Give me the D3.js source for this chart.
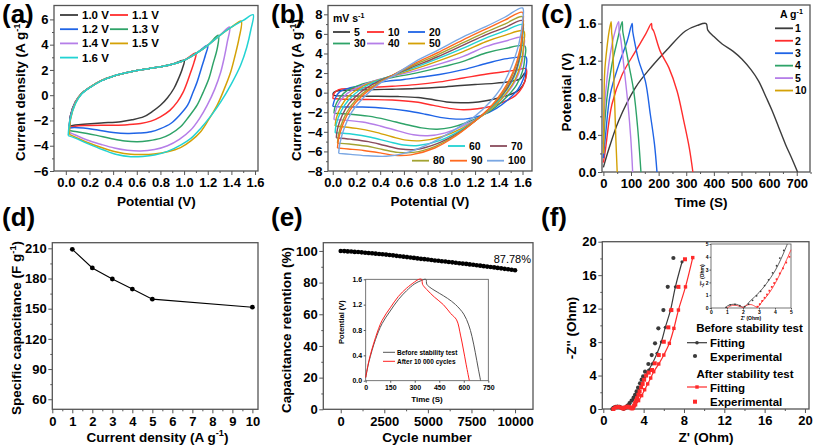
<!DOCTYPE html>
<html><head><meta charset="utf-8">
<script src="https://cdn.jsdelivr.net/npm/d3@7"></script>
<style>body{margin:0;background:#fff}text{font-family:"Liberation Sans",Arial,sans-serif}</style>
</head><body><svg id="c" width="813" height="445"></svg>
<script>
// ---------------- (a) CV at different potential windows: [V, I] ----------------
const cvaLabels = ["1.0 V","1.1 V","1.2 V","1.3 V","1.4 V","1.5 V","1.6 V"];
const cvA10 = [[0.03,-2.45],[0.04,-1.6],[0.08,-0.55],[0.13,0.1],[0.2,0.6],[0.3,1.15],[0.4,1.5],[0.5,1.75],[0.6,1.95],[0.7,2.1],[0.8,2.25],[0.9,2.45],[1.0,2.76],
  [0.985,2.1],[0.95,1.25],[0.915,0.55],[0.86,-0.2],[0.8,-0.8],[0.73,-1.3],[0.66,-1.7],[0.56,-1.95],[0.465,-2.1],[0.3,-2.2],[0.18,-2.28],[0.08,-2.36],[0.03,-2.45]];
const cvA11 = [[0.03,-2.55],[0.04,-1.6],[0.08,-0.55],[0.13,0.1],[0.2,0.6],[0.3,1.15],[0.4,1.5],[0.5,1.75],[0.6,1.95],[0.7,2.1],[0.8,2.25],[0.9,2.45],[1.0,2.76],[1.1,3.33],
  [1.084,2.6],[1.055,1.8],[1.027,1.05],[0.99,0.2],[0.943,-0.53],[0.88,-1.2],[0.8,-1.71],[0.72,-2.05],[0.633,-2.24],[0.52,-2.33],[0.41,-2.37],[0.18,-2.4],[0.08,-2.45],[0.03,-2.55]];
const cvA12 = [[0.03,-2.6],[0.04,-1.6],[0.08,-0.55],[0.13,0.1],[0.2,0.6],[0.3,1.15],[0.4,1.5],[0.5,1.75],[0.6,1.95],[0.7,2.1],[0.8,2.25],[0.9,2.45],[1.0,2.76],[1.1,3.3],[1.2,3.95],
  [1.18,3.16],[1.145,2.1],[1.11,1.05],[1.07,0.1],[1.03,-0.79],[0.96,-1.6],[0.887,-2.24],[0.8,-2.65],[0.72,-2.9],[0.62,-3.0],[0.52,-3.03],[0.4,-2.95],[0.27,-2.76],[0.15,-2.6],[0.07,-2.55],[0.03,-2.6]];
const cvA13 = [[0.03,-2.8],[0.04,-1.7],[0.08,-0.6],[0.13,0.1],[0.2,0.6],[0.3,1.15],[0.4,1.5],[0.5,1.75],[0.6,1.95],[0.7,2.1],[0.8,2.25],[0.9,2.45],[1.0,2.76],[1.1,3.3],[1.2,3.95],[1.29,4.74],
  [1.28,3.68],[1.245,2.5],[1.21,1.32],[1.16,0.2],[1.11,-0.79],[1.04,-1.7],[0.97,-2.5],[0.88,-3.1],[0.8,-3.42],[0.7,-3.6],[0.605,-3.68],[0.5,-3.62],[0.38,-3.42],[0.27,-3.2],[0.18,-3.03],[0.08,-2.88],[0.03,-2.8]];
const cvA14 = [[0.03,-2.95],[0.04,-1.8],[0.08,-0.6],[0.13,0.1],[0.2,0.6],[0.3,1.15],[0.4,1.5],[0.5,1.75],[0.6,1.95],[0.7,2.1],[0.8,2.25],[0.9,2.45],[1.0,2.76],[1.1,3.3],[1.2,3.95],[1.3,4.72],[1.385,5.39],
  [1.365,4.2],[1.34,3.0],[1.31,1.84],[1.26,0.5],[1.196,-0.79],[1.13,-1.85],[1.056,-2.76],[0.96,-3.5],[0.86,-4.0],[0.75,-4.3],[0.633,-4.42],[0.52,-4.36],[0.41,-4.18],[0.3,-3.9],[0.18,-3.55],[0.08,-3.15],[0.03,-2.95]];
const cvA15 = [[0.03,-3.1],[0.04,-1.9],[0.08,-0.65],[0.13,0.1],[0.2,0.6],[0.3,1.15],[0.4,1.5],[0.5,1.75],[0.6,1.95],[0.7,2.1],[0.8,2.25],[0.9,2.45],[1.0,2.76],[1.1,3.3],[1.2,3.95],[1.3,4.72],[1.4,5.38],[1.483,5.87],
  [1.464,4.47],[1.43,3.1],[1.394,1.84],[1.34,0.5],[1.28,-0.79],[1.21,-1.9],[1.14,-2.9],[1.06,-3.6],[0.97,-4.15],[0.86,-4.48],[0.746,-4.65],[0.65,-4.7],[0.55,-4.68],[0.43,-4.5],[0.32,-4.2],[0.2,-3.8],[0.1,-3.4],[0.03,-3.1]];
const cvA16 = [[0.02,-3.2],[0.035,-2.0],[0.08,-0.7],[0.13,0.05],[0.2,0.58],[0.3,1.13],[0.4,1.5],[0.5,1.75],[0.6,1.95],[0.7,2.1],[0.8,2.25],[0.9,2.45],[1.0,2.76],[1.1,3.3],[1.2,3.95],[1.3,4.72],[1.4,5.38],[1.5,5.92],[1.584,6.37],
  [1.565,5.2],[1.53,3.8],[1.478,2.37],[1.4,0.9],[1.31,-0.53],[1.23,-1.6],[1.14,-2.63],[1.06,-3.4],[0.97,-3.95],[0.86,-4.45],[0.75,-4.74],[0.65,-4.85],[0.55,-4.87],[0.43,-4.7],[0.32,-4.34],[0.18,-3.81],[0.08,-3.4],[0.02,-3.2]];
const cvA = [cvA10,cvA11,cvA12,cvA13,cvA14,cvA15,cvA16];

// ---------------- (b) CV at different scan rates: [V, I] ----------------
const cvbLabels = ["5","10","20","30","40","50","60","70","80","90","100"];
const cvB5 = [[0.0,-0.2],[0.01,0.05],[0.05,0.2],[0.15,0.26],[0.3,0.3],[0.5,0.35],[0.7,0.42],[0.9,0.55],[1.08,0.73],[1.2,0.83],[1.36,0.95],[1.5,1.15],[1.58,1.4],[1.62,2.0],
  [1.625,1.4],[1.6,0.7],[1.55,0.1],[1.47,-0.3],[1.38,-0.6],[1.28,-0.85],[1.18,-1.0],[1.08,-1.03],[0.96,-0.95],[0.85,-0.72],[0.72,-0.5],[0.55,-0.4],[0.3,-0.36],[0.1,-0.33],[0.02,-0.3],[0.0,-0.2]];
const cvB10 = [[0.0,-0.6],[0.01,-0.1],[0.05,0.3],[0.15,0.42],[0.3,0.52],[0.5,0.65],[0.7,0.82],[0.9,1.1],[1.1,1.5],[1.3,1.9],[1.45,2.15],[1.55,2.3],[1.63,2.45],
  [1.63,1.6],[1.6,0.6],[1.54,-0.3],[1.45,-0.9],[1.35,-1.35],[1.22,-1.65],[1.1,-1.75],[0.98,-1.6],[0.85,-1.3],[0.7,-0.95],[0.5,-0.75],[0.3,-0.7],[0.1,-0.68],[0.0,-0.6]];
const cvB20 = [[0.0,-1.4],[0.02,-0.6],[0.06,0.1],[0.15,0.5],[0.3,0.85],[0.45,1.15],[0.6,1.35],[0.75,1.6],[0.9,1.85],[1.1,2.35],[1.3,3.0],[1.45,3.45],[1.55,3.6],[1.63,3.65],
  [1.63,2.6],[1.61,1.5],[1.56,0.3],[1.48,-0.7],[1.38,-1.6],[1.26,-2.3],[1.14,-2.65],[1.04,-2.7],[0.92,-2.55],[0.78,-2.2],[0.62,-1.85],[0.45,-1.6],[0.25,-1.47],[0.05,-1.45],[0.0,-1.4]];
const cvB30 = [[0.01,-2.1],[0.02,-1.4],[0.06,-0.5],[0.12,0.2],[0.22,0.75],[0.35,1.2],[0.5,1.55],[0.7,2.0],[0.88,2.5],[1.1,3.2],[1.29,4.05],[1.45,4.5],[1.62,4.75],
  [1.62,3.6],[1.6,2.2],[1.55,0.8],[1.47,-0.4],[1.37,-1.5],[1.25,-2.4],[1.12,-3.1],[1.0,-3.55],[0.88,-3.73],[0.75,-3.6],[0.6,-3.2],[0.45,-2.75],[0.3,-2.4],[0.15,-2.2],[0.01,-2.1]];
const cvB40 = [[0.01,-2.75],[0.02,-2.0],[0.06,-0.9],[0.12,-0.1],[0.22,0.6],[0.35,1.2],[0.5,1.65],[0.7,2.25],[0.88,2.86],[1.1,3.7],[1.29,4.7],[1.45,5.25],[1.61,5.65],
  [1.61,4.5],[1.59,2.8],[1.54,1.2],[1.46,-0.2],[1.36,-1.4],[1.24,-2.5],[1.1,-3.4],[0.95,-4.1],[0.8,-4.4],[0.68,-4.3],[0.55,-3.9],[0.4,-3.4],[0.25,-3.0],[0.1,-2.8],[0.01,-2.75]];
const cvB50 = [[0.02,-3.4],[0.03,-2.6],[0.07,-1.4],[0.13,-0.4],[0.23,0.5],[0.35,1.15],[0.5,1.7],[0.7,2.45],[0.88,3.2],[1.1,4.2],[1.29,5.2],[1.45,5.85],[1.61,6.3],
  [1.61,5.0],[1.59,3.2],[1.54,1.4],[1.46,-0.1],[1.36,-1.4],[1.23,-2.6],[1.08,-3.7],[0.92,-4.5],[0.75,-4.9],[0.62,-4.85],[0.5,-4.5],[0.35,-4.0],[0.2,-3.65],[0.02,-3.4]];
const cvB60 = [[0.02,-4.1],[0.03,-3.2],[0.07,-1.9],[0.13,-0.8],[0.23,0.3],[0.35,1.1],[0.5,1.75],[0.7,2.6],[0.88,3.44],[1.1,4.55],[1.29,5.57],[1.45,6.3],[1.6,6.95],
  [1.6,5.6],[1.58,3.6],[1.53,1.6],[1.45,0.0],[1.35,-1.4],[1.22,-2.7],[1.07,-3.9],[0.9,-4.9],[0.72,-5.4],[0.6,-5.35],[0.47,-5.0],[0.32,-4.55],[0.17,-4.25],[0.02,-4.1]];
const cvB70 = [[0.03,-4.6],[0.04,-3.7],[0.08,-2.3],[0.14,-1.1],[0.24,0.1],[0.36,1.0],[0.5,1.75],[0.7,2.75],[0.88,3.64],[1.1,4.85],[1.29,5.9],[1.45,6.65],[1.6,7.35],
  [1.6,6.0],[1.58,3.9],[1.53,1.8],[1.45,0.1],[1.34,-1.4],[1.21,-2.8],[1.06,-4.1],[0.88,-5.2],[0.7,-5.8],[0.57,-5.75],[0.44,-5.4],[0.3,-5.0],[0.15,-4.75],[0.03,-4.6]];
const cvB80 = [[0.04,-5.15],[0.05,-4.2],[0.09,-2.7],[0.15,-1.4],[0.25,-0.1],[0.37,0.9],[0.5,1.75],[0.7,2.9],[0.88,3.84],[1.1,5.1],[1.29,6.17],[1.45,7.0],[1.6,7.75],
  [1.6,6.4],[1.58,4.2],[1.52,1.9],[1.44,0.1],[1.33,-1.5],[1.2,-2.9],[1.05,-4.25],[0.87,-5.45],[0.68,-6.1],[0.55,-6.1],[0.42,-5.8],[0.28,-5.45],[0.14,-5.25],[0.04,-5.15]];
const cvB90 = [[0.04,-5.65],[0.05,-4.7],[0.09,-3.1],[0.15,-1.7],[0.25,-0.3],[0.37,0.8],[0.5,1.75],[0.7,3.05],[0.88,4.05],[1.1,5.4],[1.29,6.48],[1.45,7.4],[1.6,8.2],
  [1.6,6.8],[1.58,4.5],[1.52,2.1],[1.43,0.1],[1.32,-1.6],[1.19,-3.0],[1.04,-4.4],[0.86,-5.65],[0.66,-6.35],[0.52,-6.4],[0.4,-6.15],[0.26,-5.9],[0.13,-5.75],[0.04,-5.65]];
const cvB100 = [[0.05,-6.2],[0.06,-5.2],[0.1,-3.5],[0.16,-2.0],[0.26,-0.5],[0.38,0.8],[0.52,1.8],[0.7,3.2],[0.88,4.3],[1.1,5.7],[1.29,6.74],[1.45,7.7],[1.6,8.65],
  [1.6,7.2],[1.57,5.0],[1.53,3.4],[1.48,1.9],[1.42,0.5],[1.33,-0.9],[1.2,-2.4],[1.0,-4.0],[0.8,-5.3],[0.6,-6.2],[0.45,-6.5],[0.3,-6.45],[0.15,-6.3],[0.05,-6.2]];
const cvB = [cvB5,cvB10,cvB20,cvB30,cvB40,cvB50,cvB60,cvB70,cvB80,cvB90,cvB100];

// ---------------- (c) GCD curves: [time s, potential V] ----------------
const gcdLabels = ["1","2","3","4","5","10"];
const gcd1 = [[0,0.05],[20,0.25],[55,0.55],[116,0.91],[176,1.14],[237,1.34],[297,1.52],[340,1.58],[372,1.6],[378,1.53],[400,1.46],[430,1.38],[470,1.3],[502,1.215],[535,1.1],[562,0.98],[590,0.8],[611,0.66],[635,0.48],[659,0.3],[683,0.14],[703,0]];
const gcd2 = [[0,0.1],[7,0.23],[31,0.73],[68,1.05],[116,1.3],[152,1.48],[174,1.6],[176,1.55],[182,1.52],[206,1.3],[237,1.125],[267,0.87],[291,0.55],[311,0.26],[324,0]];
const gcd3 = [[0,0.15],[7,0.37],[25,0.84],[56,1.16],[86,1.41],[104,1.6],[106,1.52],[110,1.45],[128,1.2],[152,0.98],[170,0.62],[185,0.3],[194,0]];
const gcd4 = [[0,0.3],[13,0.8],[31,1.16],[50,1.41],[68,1.62],[70,1.52],[74,1.45],[92,1.16],[110,0.87],[124,0.48],[136,0]];
const gcd5 = [[0,0.45],[10,0.91],[25,1.27],[41,1.5],[55,1.62],[57,1.52],[62,1.45],[76,1.09],[89,0.73],[99,0.37],[106,0]];
const gcd10 = [[1,0.2],[2,0.72],[5,1.09],[13,1.34],[21,1.52],[28,1.62],[30,1.5],[32,1.45],[39,0.91],[45,0.37],[50,0]];
const gcd = [gcd1,gcd2,gcd3,gcd4,gcd5,gcd10];

// ---------------- (d) specific capacitance ----------------
const capDensity = [1,2,3,4,5,10];
const capValue = [209,190.5,179.5,169.5,159.5,151.5];

// ---------------- (e) cycling stability ----------------
const cycles = [0,200,400,600,800,1000,1200,1400,1600,1800,2000,2200,2400,2600,2800,3000,3200,3400,3600,3800,4000,4200,4400,4600,4800,5000,5200,5400,5600,5800,6000,6200,6400,6600,6800,7000,7200,7400,7600,7800,8000,8200,8400,8600,8800,9000,9200,9400,9600,9800,10000];
const retention = [100.0,99.9,99.7,99.6,99.4,99.3,99.1,98.9,98.7,98.5,98.3,98.1,97.9,97.7,97.4,97.2,96.9,96.6,96.4,96.1,95.9,95.6,95.3,95.0,94.8,94.6,94.3,94.0,93.8,93.5,93.3,93.0,92.8,92.5,92.2,92.0,91.8,91.5,91.3,91.0,90.7,90.4,90.1,89.9,89.6,89.3,89.0,88.7,88.4,88.1,87.78];
const insetBefore = [[0,0.05],[20,0.3],[60,0.65],[100,0.9],[150,1.1],[200,1.28],[250,1.42],[300,1.53],[340,1.58],[368,1.6],[374,1.52],[400,1.46],[450,1.38],[500,1.3],[550,1.2],[600,1.05],[630,0.88],[650,0.7],[670,0.45],[688,0.2],[703,0]];
const insetAfter = [[0,0.05],[20,0.32],[60,0.68],[100,0.95],[150,1.15],[200,1.33],[250,1.46],[300,1.56],[325,1.6],[342,1.6],[348,1.52],[373,1.44],[420,1.32],[475,1.2],[520,1.06],[556,0.96],[580,0.72],[597,0.5],[615,0.25],[634,0]];
const insetLegend = ["Before stability test","After 10 000 cycles"];

// ---------------- (f) Nyquist plots: [Z', -Z''] ----------------
const eisBeforeExp = [[0.9,0],[1.0,0.15],[1.2,0.25],[1.4,0.28],[1.6,0.25],[1.8,0.15],[2.0,0.05],[2.2,0.15],[2.4,0.4],[2.6,0.7],[2.8,1.0],[3.0,1.35],[3.15,1.7],[3.3,2.1],[3.45,2.55],[3.64,3.07],[3.8,3.5],[3.95,3.9],[4.14,4.46],[4.47,5.38],[4.8,6.45],[5.13,7.85],[5.46,9.64],[5.96,11.83],[6.39,14.6],[6.95,18.05]];
const eisBeforeFit = [[0.9,0],[1.1,0.2],[1.4,0.3],[1.7,0.25],[2.0,0.05],[2.3,0.3],[2.6,0.7],[2.9,1.1],[3.2,1.6],[3.5,2.2],[3.8,2.9],[4.1,3.75],[4.5,4.66],[4.85,5.4],[5.33,6.65],[5.76,8.04],[6.15,9.76],[6.65,11.75],[7.15,14.6],[7.81,17.6]];
const eisAfterExp = [[1.0,0],[1.2,0.2],[1.5,0.25],[1.8,0.15],[2.0,0.05],[2.2,0.2],[2.4,0.28],[2.6,0.2],[2.8,0.08],[2.95,0.15],[3.05,0.4],[3.15,0.7],[3.25,1.0],[3.35,1.3],[3.48,1.7],[3.6,2.1],[3.75,2.6],[3.9,3.0],[4.05,3.5],[4.25,4.0],[4.5,4.35],[4.83,4.66],[5.1,5.46],[5.5,6.45],[6.0,8.04],[6.45,9.76],[6.75,11.83],[7.45,14.6],[8.1,17.9]];
const eisAfterFit = [[1.0,0],[1.3,0.2],[1.6,0.22],[2.0,0.05],[2.3,0.25],[2.6,0.25],[2.9,0.05],[3.2,0.5],[3.5,1.0],[3.8,1.6],[4.1,2.3],[4.4,3.0],[4.7,3.7],[5.0,4.46],[5.5,5.38],[6.0,6.45],[6.55,7.85],[7.0,9.64],[7.45,11.83],[8.15,14.6],[8.87,18.1]];
const zBeforeFit = [[0.9,0],[1.05,0.18],[1.3,0.28],[1.6,0.28],[1.85,0.15],[2.05,0.05],[2.45,0.55],[3.0,1.2],[3.48,1.93],[4.0,2.9],[4.4,3.9],[4.77,5.0]];
const zBeforeExp = [[0.95,0.05],[1.2,0.25],[1.5,0.28],[1.8,0.18],[2.1,0.1],[2.35,0.3],[2.6,0.6],[2.85,0.95],[3.1,1.3],[3.35,1.75],[3.6,2.2],[3.85,2.75],[4.1,3.3],[4.3,3.9],[4.55,4.5]];
const zAfterFit = [[1.0,0],[1.2,0.15],[1.5,0.22],[1.8,0.12],[2.0,0.05],[2.2,0.2],[2.5,0.27],[2.8,0.1],[2.9,0.05],[3.2,0.5],[3.6,1.1],[4.0,1.9],[4.5,3.15],[5.0,4.55]];
const zAfterExp = [[2.9,0.1],[3.05,0.3],[3.2,0.55],[3.35,0.8],[3.5,1.05],[3.65,1.35],[3.8,1.65],[3.95,1.95],[4.1,2.25],[4.3,2.7],[4.5,3.1],[4.7,3.55],[4.9,4.0]];

// ---------------- drawing ----------------
const svg = d3.select("#c");
const FRAME = "#555";
const pal = ["#3c3c3c","#ff2d2d","#1f64e6","#2ea368","#b57ee8","#d4a106","#22d3d3","#8a4b5c","#a3a332","#ff6a1f","#7aa7e3"];

function styleAxis(g, fs){
  g.select(".domain").remove();
  g.selectAll("line").attr("stroke", FRAME).attr("stroke-width",1);
  g.selectAll("text").attr("font-size", fs).attr("font-weight","bold").attr("fill","#000")
    .attr("font-family","Liberation Sans, Arial, sans-serif");
}
function panel(box, xd, yd, o){
  const x = d3.scaleLinear().domain(xd).range([box[0], box[1]]);
  const y = d3.scaleLinear().domain(yd).range([box[3], box[2]]);
  const fs = o.fs || 13, ts = o.ts || 4, tm = o.tm || 2;
  if (o.xm) styleAxis(svg.append("g").attr("transform",`translate(0,${box[3]})`).call(d3.axisBottom(x).tickValues(o.xm).tickSize(tm).tickFormat("")), fs);
  if (o.ym) styleAxis(svg.append("g").attr("transform",`translate(${box[0]},0)`).call(d3.axisLeft(y).tickValues(o.ym).tickSize(tm).tickFormat("")), fs);
  styleAxis(svg.append("g").attr("transform",`translate(0,${box[3]})`).call(d3.axisBottom(x).tickValues(o.xt).tickFormat(o.xf||d3.format("")).tickSize(ts).tickPadding(o.xp||3)), fs);
  styleAxis(svg.append("g").attr("transform",`translate(${box[0]},0)`).call(d3.axisLeft(y).tickValues(o.yt).tickFormat(o.yf||d3.format("")).tickSize(ts).tickPadding(o.yp||1.5)), fs);
  svg.append("rect").attr("x",box[0]).attr("y",box[2]).attr("width",box[1]-box[0]).attr("height",box[3]-box[2])
    .attr("fill","none").attr("stroke",FRAME).attr("stroke-width",o.fw||1.3);
  return {x,y};
}
function txt(x,y,s,fs,opt){
  opt = opt||{};
  const t = svg.append("text").attr("x",x).attr("y",y).attr("font-size",fs)
    .attr("font-weight",opt.w||"bold").attr("fill",opt.c||"#000").attr("text-anchor",opt.a||"start");
  if (opt.rot) t.attr("transform",`rotate(-90,${x},${y})`);
  const parts = s.split("^");
  t.append("tspan").text(parts[0]);
  if (parts.length>1){
    t.append("tspan").attr("font-size",fs*0.68).attr("dy",-fs*0.38).text(parts[1]);
    t.append("tspan").attr("dy",fs*0.38).text(parts[2]||"");
  }
  return t;
}
const smooth = (P)=> d3.line().x(d=>P.x(d[0])).y(d=>P.y(d[1])).curve(d3.curveCatmullRom.alpha(0.5));
const straight = (P)=> d3.line().x(d=>P.x(d[0])).y(d=>P.y(d[1]));

// panel labels
[["(a)",2,23],["(b)",271,23],["(c)",541,23],["(d)",2,226],["(e)",271,226],["(f)",541,226]]
  .forEach(d=>txt(d[1],d[2],d[0],26));

// ---- (a)
const pa = panel([54,258,5.5,171],[-0.1,1.625],[-6,7.1],
  {xt:d3.range(0,1.61,0.2),xm:d3.range(0.1,1.61,0.2),xf:d3.format(".1f"),yt:[-6,-4,-2,0,2,4,6],ym:[-5,-3,-1,1,3,5]});
cvA.forEach((c,i)=>svg.append("path").attr("d",smooth(pa)(c)).attr("fill","none").attr("stroke",pal[i]).attr("stroke-width",1.5));
cvaLabels.forEach((l,i)=>{
  const cx=[60,110][i%2], cy=15+Math.floor(i/2)*14.2;
  svg.append("line").attr("x1",cx).attr("x2",cx+18).attr("y1",cy).attr("y2",cy).attr("stroke",pal[i]).attr("stroke-width",1.8);
  txt(cx+22,cy+4,l,11.5);
});
txt(25,90,"Current density (A g^-1^)",13.5,{rot:true,a:"middle"});
txt(156.5,206,"Potential (V)",13.5,{a:"middle"});

// ---- (b)
const pb = panel([328,532,5.5,171],[-0.04,1.68],[-8,8.9],
  {xt:d3.range(0,1.61,0.2),xm:d3.range(0.1,1.61,0.2),xf:d3.format(".1f"),yt:[-8,-6,-4,-2,0,2,4,6,8],ym:[-7,-5,-3,-1,1,3,5,7]});
cvB.forEach((c,i)=>svg.append("path").attr("d",smooth(pb)(c)).attr("fill","none").attr("stroke",pal[i]).attr("stroke-width",1.4));
txt(333,21.5,"mV s^-1^",10.5);
const bLeg = [[333,32],[367,32],[408,32],[333,43.5],[367,43.5],[408,43.5],[448,146],[490,146],[412,160.7],[450,160.7],[487,160.7]];
cvbLabels.forEach((l,i)=>{
  const [cx,cy]=bLeg[i];
  svg.append("line").attr("x1",cx).attr("x2",cx+17).attr("y1",cy).attr("y2",cy).attr("stroke",pal[i]).attr("stroke-width",1.8);
  txt(cx+21,cy+3.7,l,10.5);
});
txt(301,90,"Current density (A g^-1^)",13.5,{rot:true,a:"middle"});
txt(430,206,"Potential (V)",13.5,{a:"middle"});

// ---- (c)
const pc = panel([602,810,5,172],[-5,748],[0,1.8],
  {xt:d3.range(0,701,100),xm:d3.range(50,751,100),yt:[0,0.4,0.8,1.2,1.6],ym:[0.2,0.6,1.0,1.4],yf:d3.format(".1f")});
gcd.forEach((c,i)=>svg.append("path").attr("d",smooth(pc)(c)).attr("fill","none").attr("stroke",pal[i]).attr("stroke-width",1.4));
txt(780,17.5,"A g^-1^",10.5);
gcdLabels.forEach((l,i)=>{
  const cy=28.3+i*12.45;
  svg.append("line").attr("x1",775).attr("x2",793).attr("y1",cy).attr("y2",cy).attr("stroke",pal[i]).attr("stroke-width",1.8);
  txt(795,cy+3.8,l,10.5);
});
txt(571,92,"Potential (V)",13.5,{rot:true,a:"middle"});
txt(701,207,"Time (S)",13.5,{a:"middle"});

// ---- (d)
const pd = panel([52.3,258,242.7,409.3],[0,10.28],[50,215.6],
  {xt:d3.range(0,11,1),xm:d3.range(0.5,10.1,1),yt:[60,90,120,150,180,210],ym:[75,105,135,165,195]});
const dPts = capDensity.map((v,i)=>[v,capValue[i]]);
svg.append("path").attr("d",straight(pd)(dPts)).attr("fill","none").attr("stroke","#000").attr("stroke-width",1.1);
svg.selectAll(null).data(dPts).join("circle").attr("cx",d=>pd.x(d[0])).attr("cy",d=>pd.y(d[1])).attr("r",2.4).attr("fill","#000");
txt(21,328,"Specific capacitance (F g^-1^)",13.5,{rot:true,a:"middle"});
txt(157.5,441.5,"Current density (A g^-1^)",13.5,{a:"middle"});

// ---- (e)
const pe = panel([323.3,533,242.7,409.3],[-1000,11030],[0,105.2],
  {xt:[0,2500,5000,7500,10000],xm:[1250,3750,6250,8750],yt:[0,20,40,60,80,100],ym:[10,30,50,70,90]});
svg.selectAll(null).data(cycles.map((c,i)=>[c,retention[i]])).join("circle")
  .attr("cx",d=>pe.x(d[0])).attr("cy",d=>pe.y(d[1])).attr("r",2.3).attr("fill","#000");
txt(531,263,"87.78%",11,{a:"end",w:"normal"});
txt(291,330,"Capacitance retention (%)",13.5,{rot:true,a:"middle"});
txt(427,441.5,"Cycle number",13.5,{a:"middle"});
// inset
const pi = panel([365.7,488.3,279.3,380.7],[0,750],[0,1.6],
  {xt:[0,150,300,450,600,750],yt:[0,0.4,0.8,1.2,1.6],yf:d3.format(".1f"),fs:7,ts:2,xp:2,yp:1.5,fw:0.8});
svg.append("path").attr("d",smooth(pi)(insetBefore)).attr("fill","none").attr("stroke","#555").attr("stroke-width",1);
svg.append("path").attr("d",smooth(pi)(insetAfter)).attr("fill","none").attr("stroke","#ff2020").attr("stroke-width",1);
insetLegend.forEach((l,i)=>{
  const cy=352.3+i*9;
  svg.append("line").attr("x1",383).attr("x2",395).attr("y1",cy).attr("y2",cy).attr("stroke",i?"#ff2020":"#555").attr("stroke-width",1);
  txt(397,cy+2.3,l,6.5);
});
txt(344,322,"Potential (V)",7.5,{rot:true,a:"middle"});
txt(427,402,"Time (S)",8,{a:"middle"});

// ---- (f)
const pf = panel([602.3,809,241.7,409],[-0.1,20.4],[0,20],
  {xt:[0,4,8,12,16,20],xm:[2,6,10,14,18],yt:[0,4,8,12,16,20],ym:[2,6,10,14,18]});
const BLK="#3a3a3a", RED="#ff2a2a";
svg.append("path").attr("d",smooth(pf)(eisBeforeFit)).attr("fill","none").attr("stroke",BLK).attr("stroke-width",1.2);
svg.selectAll(null).data(eisBeforeFit).join("circle").attr("cx",d=>pf.x(d[0])).attr("cy",d=>pf.y(d[1])).attr("r",1.6).attr("fill",BLK);
svg.append("path").attr("d",smooth(pf)(eisAfterFit)).attr("fill","none").attr("stroke",RED).attr("stroke-width",1.2);
svg.selectAll(null).data(eisAfterFit).join("rect").attr("x",d=>pf.x(d[0])-1.7).attr("y",d=>pf.y(d[1])-1.7).attr("width",3.4).attr("height",3.4).attr("fill",RED);
svg.selectAll(null).data(eisBeforeExp).join("circle").attr("cx",d=>pf.x(d[0])).attr("cy",d=>pf.y(d[1])).attr("r",2.1).attr("fill",BLK);
svg.selectAll(null).data(eisAfterExp).join("rect").attr("x",d=>pf.x(d[0])-2).attr("y",d=>pf.y(d[1])-2).attr("width",4).attr("height",4).attr("fill",RED);
txt(576,328,"-Z'' (Ohm)",13.5,{rot:true,a:"middle"});
txt(706,441.5,"Z' (Ohm)",13.5,{a:"middle"});
// legend
txt(749.5,332,"Before stability test",11.5,{a:"middle"});
svg.append("line").attr("x1",687).attr("x2",707).attr("y1",342.7).attr("y2",342.7).attr("stroke",BLK).attr("stroke-width",1.2);
svg.append("circle").attr("cx",697).attr("cy",342.7).attr("r",1.8).attr("fill",BLK);
txt(710,347,"Fitting",11.5);
svg.append("circle").attr("cx",695).attr("cy",356).attr("r",2.1).attr("fill",BLK);
txt(710,360.5,"Experimental",11.5);
txt(745,378,"After stability test",11.5,{a:"middle"});
svg.append("line").attr("x1",687).attr("x2",707).attr("y1",387).attr("y2",387).attr("stroke",RED).attr("stroke-width",1.2);
svg.append("rect").attr("x",695.3).attr("y",385.3).attr("width",3.4).attr("height",3.4).attr("fill",RED);
txt(710,391.5,"Fitting",11.5,{c:"#000"});
svg.append("rect").attr("x",693).attr("y",399.7).attr("width",4).attr("height",4).attr("fill",RED);
txt(710,406,"Experimental",11.5);
// inset
const pfi = panel([711,791,244,308],[0,5],[0,5],
  {xt:[0,1,2,3,4,5],yt:[0,1,2,3,4,5],fs:5,ts:1.5,xp:1,yp:1,fw:0.8});
svg.append("path").attr("d",smooth(pfi)(zBeforeFit)).attr("fill","none").attr("stroke",BLK).attr("stroke-width",0.8);
svg.append("path").attr("d",smooth(pfi)(zAfterFit)).attr("fill","none").attr("stroke",RED).attr("stroke-width",0.8);
svg.selectAll(null).data(zBeforeExp).join("circle").attr("cx",d=>pfi.x(d[0])).attr("cy",d=>pfi.y(d[1])).attr("r",0.9).attr("fill",BLK);
svg.selectAll(null).data(zAfterExp).join("rect").attr("x",d=>pfi.x(d[0])-0.9).attr("y",d=>pfi.y(d[1])-0.9).attr("width",1.8).attr("height",1.8).attr("fill",RED);
txt(704,276,"-Z'' (Ohm)",5,{rot:true,a:"middle"});
txt(751,320,"Z' (Ohm)",5,{a:"middle"});
</script></body></html>
